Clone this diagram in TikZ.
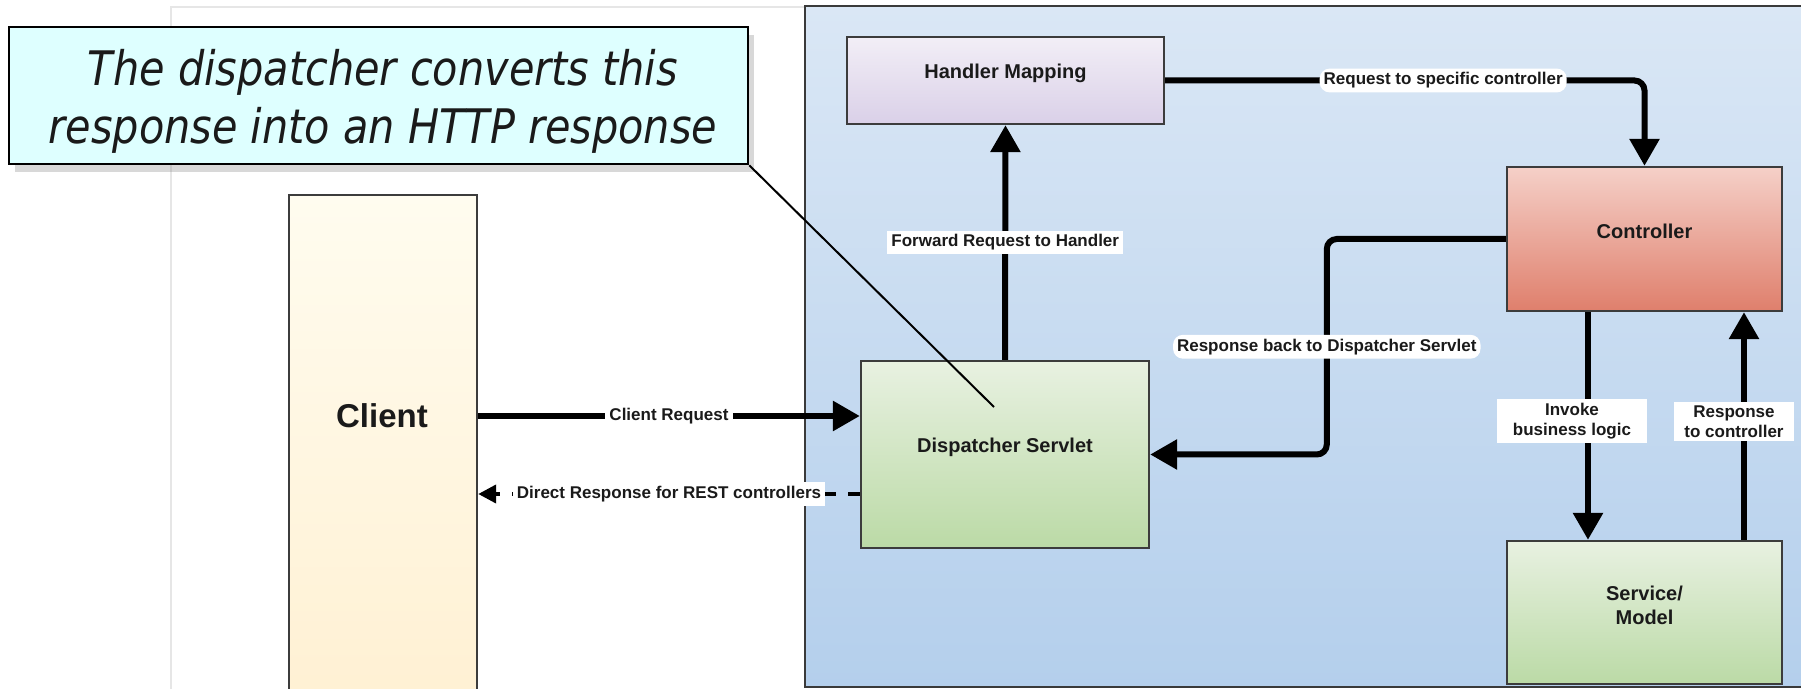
\documentclass[tikz,border=0pt]{standalone}
\usepackage{fontspec}
\setmainfont{Liberation Sans}
\newfontfamily\callfont[FakeStretch=0.87]{DejaVu Sans}
\usetikzlibrary{fit,arrows.meta,shadows}
\definecolor{panelT}{HTML}{DAE7F5}
\definecolor{panelB}{HTML}{B4CFEC}
\definecolor{panelLine}{HTML}{3A3A3A}
\definecolor{boxline}{HTML}{3C3C3C}
\definecolor{txt}{HTML}{1A1A1A}
\definecolor{hmT}{HTML}{F2EEF6}
\definecolor{hmB}{HTML}{DAD0E8}
\definecolor{ctT}{HTML}{F5D0C8}
\definecolor{ctB}{HTML}{DF7F6C}
\definecolor{grT}{HTML}{E8F1E1}
\definecolor{grB}{HTML}{BBDAA6}
\definecolor{clT}{HTML}{FFFCEF}
\definecolor{clB}{HTML}{FFF0D2}
\definecolor{callFill}{HTML}{DEFFFF}
\definecolor{faint}{HTML}{E6E6E6}
\begin{document}
\begin{tikzpicture}[x=0.5pt,y=-0.5pt,
  box/.style={draw=boxline, line width=1.2pt, inner sep=0pt,
    font=\fontsize{10}{12}\selectfont\bfseries, text=txt, align=center},
  conn/.style={line width=3pt, draw=black, -{Triangle[width=14.5pt,length=13.5pt]}},
  dconn/.style={line width=2pt, draw=black, dash pattern=on 6pt off 6pt,
    -{Triangle[width=9pt,length=9pt]}},
  lbl/.style={fill=white, inner xsep=2pt, inner ysep=2pt, text=txt,
    font=\fontsize{8.5}{10}\selectfont\bfseries, align=center},
]
\useasboundingbox (0,0) rectangle (1801,689);
\clip (0,0) rectangle (1801,689);
\fill[white] (0,0) rectangle (1801,689);

% faint frame lines of the inserted picture
\draw[faint, line width=0.6pt] (171,689) -- (171,7) -- (805,7);

% blue panel
\draw[draw=panelLine, line width=1.2pt, top color=panelT, bottom color=panelB]
  (805,6) rectangle (1830,687);

% client column
\node[box, top color=clT, bottom color=clB, fit={(289,195) (477,720)}] (client) {};
\node[font=\fontsize{16.5}{18}\selectfont\bfseries, text=txt] (clienttxt) at (382,416) {Client};

% boxes
\node[box, top color=hmT, bottom color=hmB, fit={(847,37) (1164,124)}] (hm) {Handler Mapping};
\node[box, top color=ctT, bottom color=ctB, fit={(1507,167) (1782,311)}] (ctrl) {Controller};
\node[box, top color=grT, bottom color=grB, fit={(861,361) (1149,548)}] (ds) {Dispatcher Servlet};
\node[box, top color=grT, bottom color=grB, fit={(1507,541) (1782,684)}] (svc) {Service/\\Model};

% helper coordinates
\coordinate (y416) at (0,416);
\coordinate (y494) at (0,494);
\coordinate (xinv) at (1588,0);
\coordinate (xres) at (1744,0);

% connectors
\draw[conn] (client.east |- y416) -- node[lbl, pos=0.5] {Client Request} (ds.west |- y416);
\draw[dconn] (ds.west |- y494) -- node[lbl, pos=0.5] {Direct Response for REST controllers} (client.east |- y494);
\draw[conn] (ds.north) -- node[lbl, pos=0.5] {Forward Request to Handler} (hm.south);
\draw[conn, rounded corners=5pt] (hm.east) -- node[lbl, pos=0.58] {Request to specific controller}
  (hm.east -| ctrl.north) -- (ctrl.north);
\draw[conn, rounded corners=5pt] (ctrl.west) -- ++(-179,0)
  |- node[lbl, pos=0.25] {Response back to Dispatcher Servlet} (ds.east);
\draw[conn] (xinv |- ctrl.south) -- node[lbl, pos=0.48, xshift=-8pt, inner xsep=8pt] {Invoke\\business logic} (xinv |- svc.north);
\draw[conn] (xres |- svc.north) -- node[lbl, pos=0.52, xshift=-5pt, inner xsep=5pt] {Response\\to controller} (xres |- ctrl.south);

% callout
\coordinate (leaderEnd) at (994,407);
\node[draw=black, line width=1.3pt, fill=callFill, inner sep=0pt,
  drop shadow={shadow xshift=3pt, shadow yshift=-4pt, opacity=0.3},
  fit={(9,27) (748,164)}] (callout) {};
\draw[line width=1pt, black] (callout.south east) -- (leaderEnd);
\node[text=txt, align=center, font=\callfont\itshape\fontsize{23.8}{29}\selectfont]
  (calltext) at (383,101) {The dispatcher converts this\\response into an HTTP response};
\end{tikzpicture}
\end{document}
